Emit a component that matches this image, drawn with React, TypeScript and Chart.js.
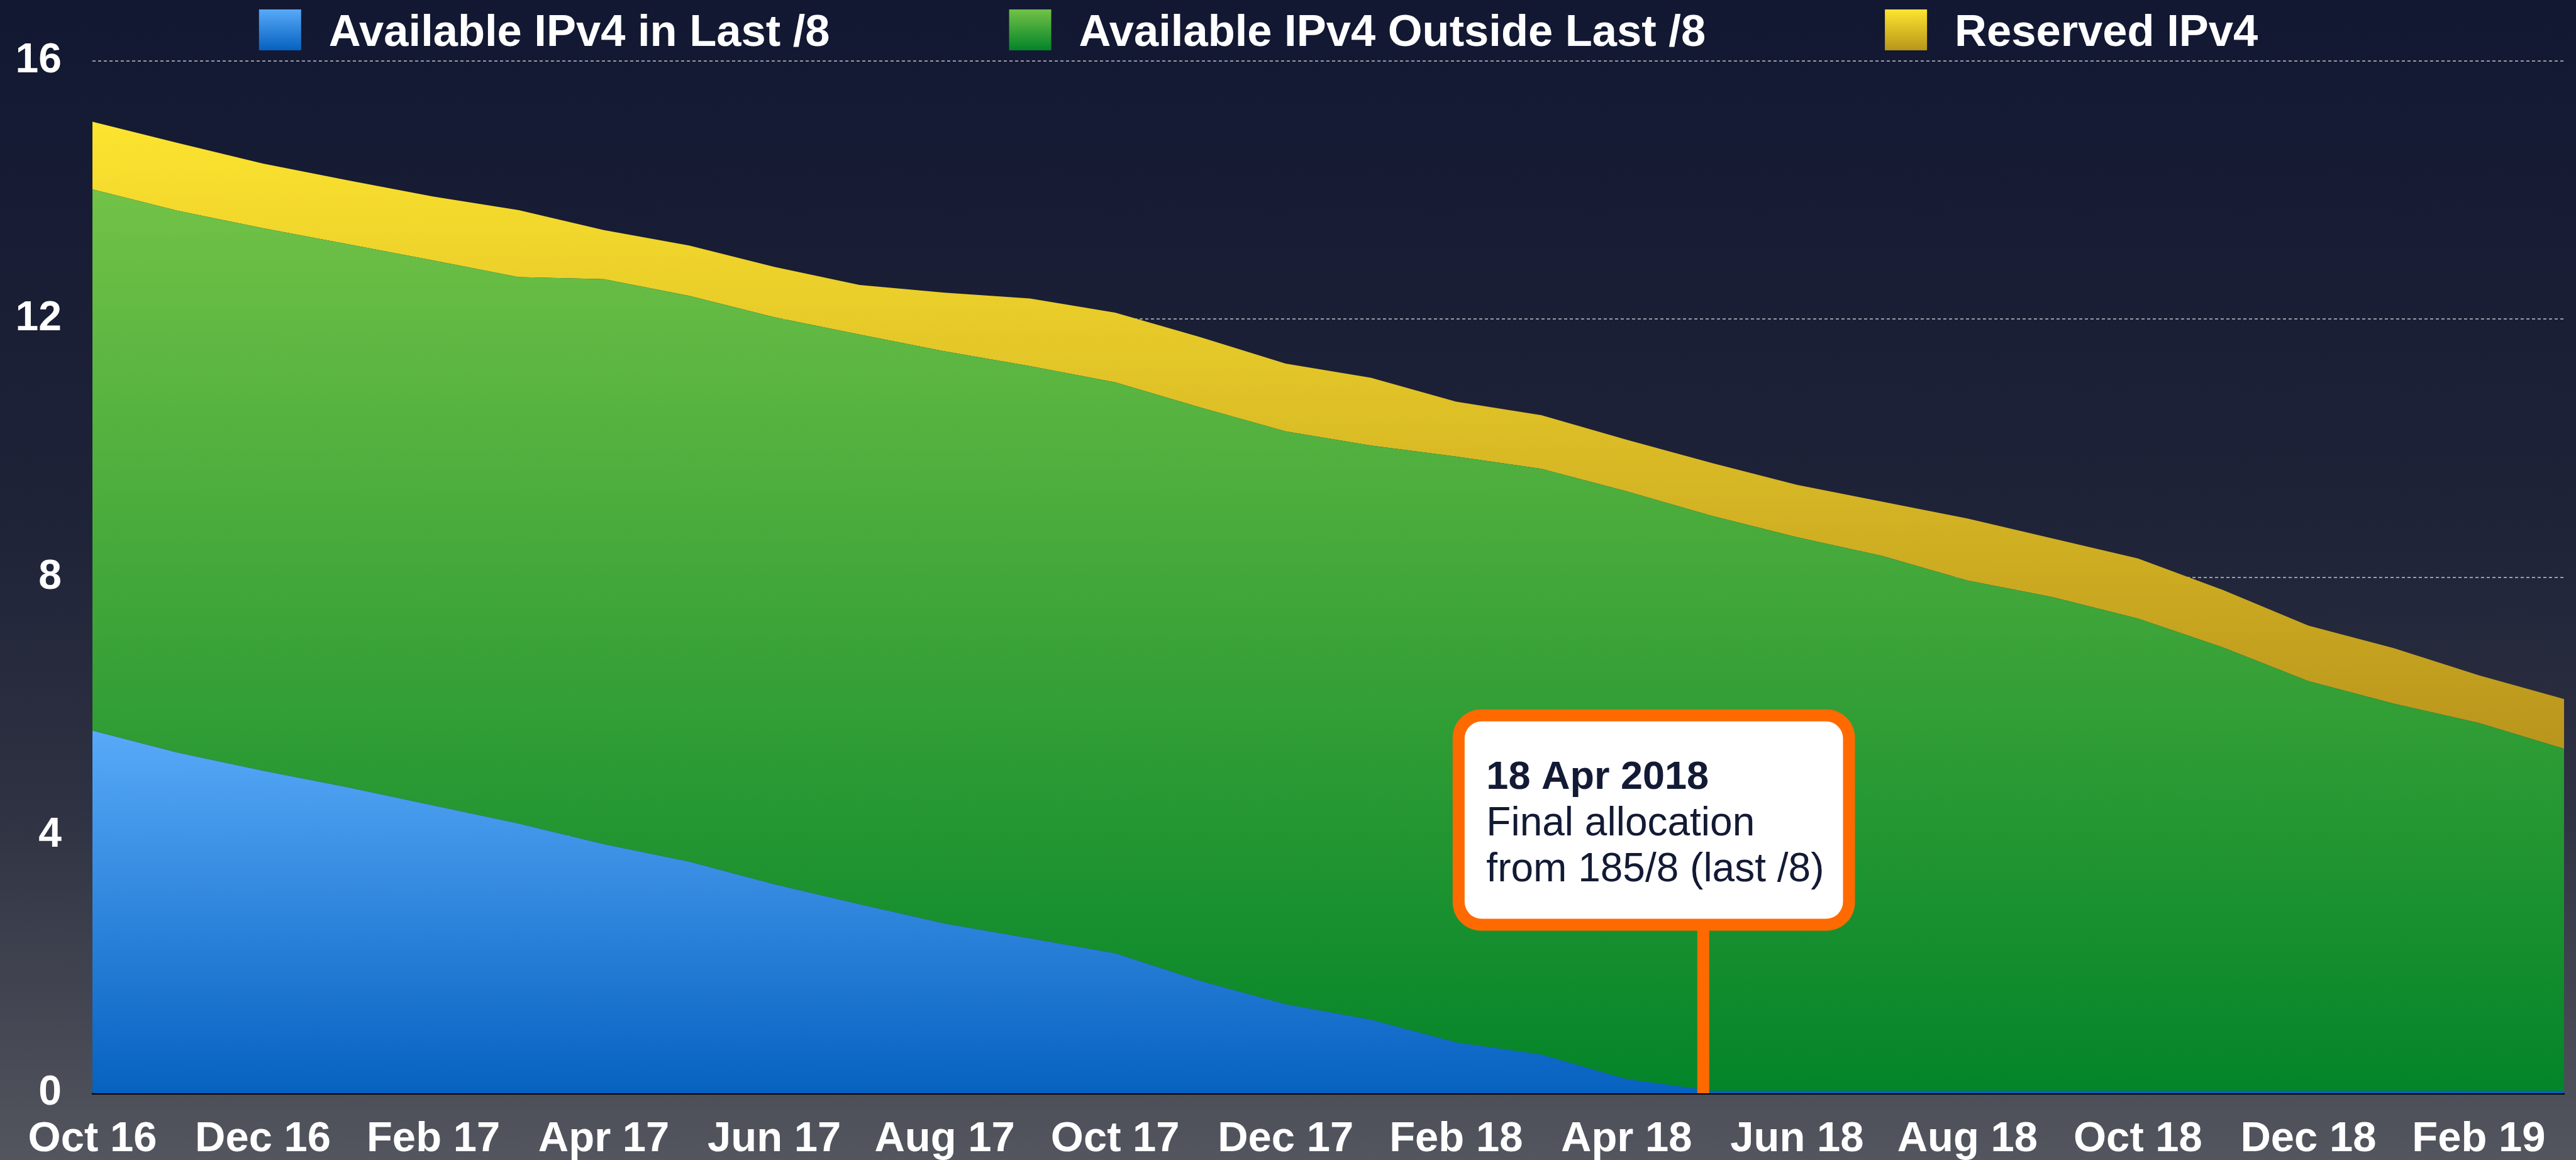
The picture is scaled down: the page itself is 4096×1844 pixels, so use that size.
import React, { useEffect, useRef } from 'react';
import { Chart, registerables } from 'chart.js';

Chart.register(...registerables);

// ---------------- data ----------------
const months = [
  'Oct 16', 'Nov 16', 'Dec 16', 'Jan 17', 'Feb 17', 'Mar 17', 'Apr 17', 'May 17', 'Jun 17', 'Jul 17',
  'Aug 17', 'Sep 17', 'Oct 17', 'Nov 17', 'Dec 17', 'Jan 18', 'Feb 18', 'Mar 18', 'Apr 18', 'May 18',
  'Jun 18', 'Jul 18', 'Aug 18', 'Sep 18', 'Oct 18', 'Nov 18', 'Dec 18', 'Jan 19', 'Feb 19', 'Mar 19',
];

const seriesNames = ['Available IPv4 in Last /8', 'Available IPv4 Outside Last /8', 'Reserved IPv4'];

const availableLast8 = [
  5.62, 5.28, 5.0, 4.74, 4.46, 4.18, 3.86, 3.59, 3.24, 2.93,
  2.63, 2.4, 2.17, 1.74, 1.38, 1.14, 0.79, 0.6, 0.22, 0.04,
  0.04, 0.04, 0.04, 0.04, 0.04, 0.04, 0.04, 0.04, 0.04, 0.04,
];

const availableOutside = [
  8.39, 8.4, 8.41, 8.42, 8.45, 8.47, 8.76, 8.77, 8.79, 8.83,
  8.87, 8.87, 8.85, 8.89, 8.88, 8.9, 9.08, 9.08, 9.11, 8.91,
  8.58, 8.29, 7.91, 7.65, 7.32, 6.87, 6.35, 6.0, 5.7, 5.3,
];

const reserved = [
  1.05, 1.05, 1.0, 0.99, 0.99, 1.04, 0.76, 0.78, 0.78, 0.77,
  0.91, 1.05, 1.08, 1.09, 1.05, 1.05, 0.85, 0.83, 0.8, 0.82,
  0.81, 0.84, 0.96, 0.91, 0.93, 0.89, 0.86, 0.86, 0.74, 0.77,
];

const yTicks = [0, 4, 8, 12, 16];

// annotation (in axis units: category index / value)
const markerIndex = 18.9;
const noteBox = { left: 15.96, right: 20.68, top: 5.95, bottom: 2.52 };
const noteTitle = '18 Apr 2018';
const noteLines = ['Final allocation', 'from 185/8 (last /8)'];

// ---------------- styles ----------------
const W = 4096;
const H = 1844;
const FONT = '"Liberation Sans", Arial, Helvetica, sans-serif';

const blueStops: [number, string][] = [[0, '#58aaf8'], [1, '#0661c0']];
const greenStops: [number, string][] = [[0, '#72c247'], [1, '#038429']];
const yellowStops: [number, string][] = [[0, '#fde42f'], [1, '#b9951c']];
const legendStops = [blueStops, greenStops, [[0, '#fde52f'], [1, '#b8951a']] as [number, string][]];

function vGrad(chart: any, topVal: number, botVal: number, stops: [number, string][]) {
  const { ctx, chartArea, scales } = chart;
  if (!chartArea || !scales || !scales.y) return stops[0][1];
  const y = scales.y;
  const g = ctx.createLinearGradient(0, y.getPixelForValue(topVal), 0, y.getPixelForValue(botVal));
  stops.forEach(([o, c]) => g.addColorStop(o, c));
  return g;
}

const backgroundPlugin = {
  id: 'bgGradient',
  beforeDraw(chart: any) {
    const { ctx, width, height } = chart;
    ctx.save();
    const g = ctx.createLinearGradient(0, 0, 0, height);
    g.addColorStop(0, '#121832');
    g.addColorStop(0.45, '#1f2338');
    g.addColorStop(0.7, '#2f3242');
    g.addColorStop(1, '#53565e');
    ctx.fillStyle = g;
    ctx.fillRect(0, 0, width, height);
    ctx.restore();
  },
};

const LEGEND_FONT = 70.5;
const BOX_W = 67;
const BOX_H = 65;
const BOX_TOP = 15;
const BOX_GAP = 44;
const ITEM_GAP = 285;
const LEGEND_CENTER = 2001;
const LEGEND_BASELINE = 73;

const legendPlugin = {
  id: 'topLegend',
  afterDraw(chart: any) {
    const { ctx } = chart;
    ctx.save();
    ctx.font = `bold ${LEGEND_FONT}px ${FONT}`;
    const widths = seriesNames.map((n) => ctx.measureText(n).width);
    const total =
      widths.reduce((s, w) => s + BOX_W + BOX_GAP + w, 0) + ITEM_GAP * (seriesNames.length - 1);
    let x = LEGEND_CENTER - total / 2;
    seriesNames.forEach((name, i) => {
      const g = ctx.createLinearGradient(0, BOX_TOP, 0, BOX_TOP + BOX_H);
      legendStops[i].forEach(([o, c]) => g.addColorStop(o, c));
      ctx.fillStyle = g;
      ctx.fillRect(x, BOX_TOP, BOX_W, BOX_H);
      ctx.fillStyle = '#ffffff';
      ctx.textBaseline = 'alphabetic';
      ctx.textAlign = 'left';
      ctx.fillText(name, x + BOX_W + BOX_GAP, LEGEND_BASELINE);
      x += BOX_W + BOX_GAP + widths[i] + ITEM_GAP;
    });
    ctx.restore();
  },
};

const noteBorder = 19;
const noteRadius = 45;
const noteInnerRadius = 27;
const noteOrange = '#ff6a00';
const noteText = '#131a35';

const notePlugin = {
  id: 'allocationNote',
  afterDatasetsDraw(chart: any) {
    const { ctx, chartArea, scales } = chart;
    const x = scales.x;
    const y = scales.y;
    const mx = x.getPixelForValue(markerIndex);
    const l = x.getPixelForValue(noteBox.left);
    const r = x.getPixelForValue(noteBox.right);
    const t = y.getPixelForValue(noteBox.top);
    const b = y.getPixelForValue(noteBox.bottom);
    ctx.save();
    ctx.fillStyle = noteOrange;
    ctx.fillRect(mx - noteBorder / 2, b - 2, noteBorder, chartArea.bottom - b + 2);
    ctx.beginPath();
    ctx.roundRect(l, t, r - l, b - t, noteRadius);
    ctx.fill();
    ctx.fillStyle = '#ffffff';
    ctx.beginPath();
    ctx.roundRect(l + noteBorder, t + noteBorder, r - l - 2 * noteBorder, b - t - 2 * noteBorder, noteInnerRadius);
    ctx.fill();
    ctx.fillStyle = noteText;
    ctx.textAlign = 'left';
    ctx.textBaseline = 'alphabetic';
    const tx = l + 53.5;
    ctx.font = `bold 63px ${FONT}`;
    ctx.fillText(noteTitle, tx, t + 126);
    ctx.font = `64px ${FONT}`;
    ctx.fillText(noteLines[0], tx, t + 200);
    ctx.fillText(noteLines[1], tx, t + 273);
    ctx.restore();
  },
};

export default function App() {
  const ref = useRef<HTMLCanvasElement>(null);

  useEffect(() => {
    document.body.style.margin = '0';
    const canvas = ref.current;
    if (!canvas) return;
    const blueTop = Math.max(...availableLast8);
    const greenTop = Math.max(...availableLast8.map((v, i) => v + availableOutside[i]));
    const totalTop = Math.max(...availableLast8.map((v, i) => v + availableOutside[i] + reserved[i]));
    const greenLow = Math.min(...availableLast8.map((v, i) => v + availableOutside[i]));

    const chart = new Chart(canvas, {
      type: 'line',
      data: {
        labels: months,
        datasets: [
          {
            label: seriesNames[0],
            data: availableLast8,
            fill: 'origin',
            borderWidth: 0,
            pointRadius: 0,
            tension: 0,
            backgroundColor: (c: any) => vGrad(c.chart, blueTop, 0, blueStops),
          },
          {
            label: seriesNames[1],
            data: availableOutside,
            fill: '-1',
            borderWidth: 0,
            pointRadius: 0,
            tension: 0,
            backgroundColor: (c: any) => vGrad(c.chart, greenTop, 0, greenStops),
          },
          {
            label: seriesNames[2],
            data: reserved,
            fill: '-1',
            borderWidth: 0,
            pointRadius: 0,
            tension: 0,
            backgroundColor: (c: any) => vGrad(c.chart, totalTop, greenLow, yellowStops),
          },
        ],
      },
      options: {
        responsive: false,
        animation: false,
        devicePixelRatio: 1,
        layout: { padding: { top: 97, right: 19, left: 0, bottom: 0 } },
        plugins: {
          legend: { display: false },
          tooltip: { enabled: false },
        },
        elements: { line: { borderWidth: 0 } },
        scales: {
          x: {
            type: 'category',
            offset: false,
            z: 1,
            grid: { display: false, drawTicks: false },
            border: { display: true, color: '#000000', width: 3 },
            ticks: {
              autoSkip: false,
              maxRotation: 0,
              minRotation: 0,
              padding: 33,
              color: '#ffffff',
              font: { family: FONT, size: 67, weight: 'bold' },
              callback: (_v: any, i: number) => (i % 2 === 0 ? months[i] : ''),
            },
            afterFit: (s: any) => {
              s.height = 106;
              s.paddingRight = 0;
            },
          },
          y: {
            stacked: true,
            min: 0,
            max: 16,
            grid: { color: '#9a9ca6', lineWidth: 2, drawTicks: false },
            border: { display: false, dash: [5, 4] },
            afterBuildTicks: (s: any) => {
              s.ticks = yTicks.map((v) => ({ value: v }));
            },
            ticks: {
              padding: 49,
              color: '#ffffff',
              font: { family: FONT, size: 66, weight: 'bold' },
            },
            afterFit: (s: any) => {
              s.width = 147;
            },
          },
        },
      },
      plugins: [backgroundPlugin, notePlugin, legendPlugin],
    } as any);
    return () => chart.destroy();
  }, []);

  return (
    <div style={{ position: 'absolute', left: 0, top: 0, width: W, height: H }}>
      <canvas ref={ref} width={W} height={H} style={{ display: 'block', width: W, height: H }} />
    </div>
  );
}
